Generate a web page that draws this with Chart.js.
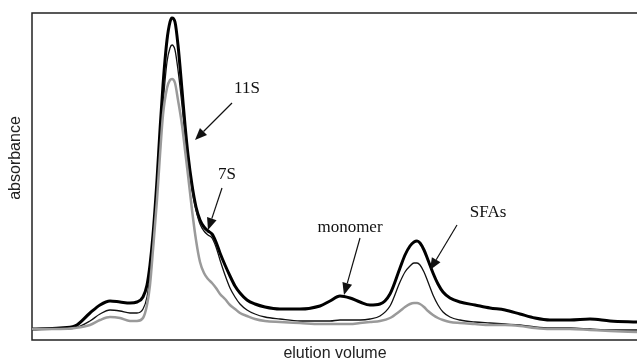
<!DOCTYPE html>
<html>
<head>
<meta charset="utf-8">
<script src="https://cdn.jsdelivr.net/npm/chart.js@4"></script>
<style>
  html, body { margin: 0; padding: 0; background: #fff; }
  #wrap { width: 637px; height: 364px; }
</style>
</head>
<body>
<div id="wrap"><canvas id="chart"></canvas></div>
<script>
// elution volume (arbitrary units) and absorbance (arbitrary units)
const volume = [0, 28, 43, 58, 68, 78, 88, 98, 105, 111,
  115, 118, 121, 125, 128, 131, 135, 138, 140, 143,
  146, 150, 153, 156, 160, 164, 168, 172, 176, 180,
  184, 188, 193, 198, 203, 208, 215, 223, 233, 248,
  268, 288, 298, 308, 318, 328, 338, 348, 358, 368,
  373, 378, 382, 385, 388, 392, 396, 401, 406, 411,
  418, 428, 443, 458, 473, 488, 503, 518, 538, 558,
  578, 605];

const thickVals = [11, 12, 14, 27, 35, 39, 38, 37, 38, 43,
  55, 75, 105, 160, 210, 255, 300, 318, 322, 318,
  295, 250, 215, 185, 155, 133, 120, 113, 109, 106,
  98, 87, 75, 64, 54, 47, 40, 36, 33, 31,
  31, 34, 39, 44, 42, 38, 35, 36, 46, 72,
  85, 94, 98, 99, 97, 90, 80, 67, 56, 48,
  42, 38, 35, 32, 30, 26, 22, 20, 20, 21,
  19, 18];

const thinVals = [11, 11, 12, 19, 26, 30, 29, 27, 27, 31,
  43, 65, 95, 145, 190, 235, 278, 292, 295, 290,
  270, 235, 205, 178, 150, 130, 116, 109, 105, 102,
  93, 80, 65, 52, 43, 36, 30, 26, 23, 21,
  19, 19, 19, 20, 20, 20, 21, 24, 34, 58,
  68, 74, 77, 77, 75, 68, 58, 45, 35, 28,
  23, 20, 18, 17, 16, 15, 13, 12, 12, 11,
  10, 10];

const grayVals = [11, 11, 12, 15, 20, 23, 22, 19, 19, 22,
  35, 55, 90, 140, 185, 225, 252, 260, 261, 257,
  240, 215, 190, 165, 130, 100, 78, 67, 61, 57,
  52, 46, 41, 35, 31, 27, 24, 21, 19, 18,
  17, 16, 16, 16, 16, 17, 18, 19, 22, 29,
  33, 36, 37, 37, 36, 33, 29, 25, 22, 20,
  18, 17, 16, 15, 15, 14, 12, 11, 11, 10,
  9, 8];

// peak labels: text position, arrow tail, arrow tip (data units)
const notes = [
  { text: "11S", lx: 215, ly: 251, tx: 200, ty: 237, hx: 163, hy: 200 },
  { text: "7S", lx: 195, ly: 165, tx: 190, ty: 152, hx: 176, hy: 110 },
  { text: "monomer", lx: 318, ly: 112, tx: 328, ty: 102, hx: 312, hy: 45 },
  { text: "SFAs", lx: 456, ly: 127, tx: 425, ty: 115, hx: 398, hy: 70 }
];

function pts(vals) {
  return volume.map((v, i) => ({ x: v, y: vals[i] }));
}

const decor = {
  id: "decor",
  beforeDatasetsDraw(chart) {
    const { ctx, chartArea: a } = chart;
    ctx.save();
    ctx.strokeStyle = "#222";
    ctx.lineWidth = 1.5;
    ctx.beginPath();
    ctx.moveTo(a.right, a.top);
    ctx.lineTo(a.left, a.top);
    ctx.lineTo(a.left, a.bottom);
    ctx.lineTo(a.right, a.bottom);
    ctx.stroke();

    ctx.fillStyle = "#222";
    ctx.font = "16px 'Liberation Sans', Arial, sans-serif";
    ctx.textAlign = "center";
    ctx.textBaseline = "middle";
    ctx.fillText("elution volume", 335, 354);
    ctx.translate(16, 158);
    ctx.rotate(-Math.PI / 2);
    ctx.fillText("absorbance", 0, 0);
    ctx.restore();
  },
  afterDatasetsDraw(chart) {
    const { ctx } = chart;
    const xs = chart.scales.x, ys = chart.scales.y;
    ctx.save();
    ctx.fillStyle = "#111";
    ctx.strokeStyle = "#111";
    ctx.font = "17px 'Liberation Serif', 'Times New Roman', serif";
    ctx.textAlign = "center";
    ctx.textBaseline = "middle";
    notes.forEach(n => {
      ctx.fillText(n.text, xs.getPixelForValue(n.lx), ys.getPixelForValue(n.ly));
      const x0 = xs.getPixelForValue(n.tx), y0 = ys.getPixelForValue(n.ty);
      const x1 = xs.getPixelForValue(n.hx), y1 = ys.getPixelForValue(n.hy);
      const ang = Math.atan2(y1 - y0, x1 - x0);
      const len = 12, half = 5;
      const bx = x1 - len * Math.cos(ang), by = y1 - len * Math.sin(ang);
      ctx.lineWidth = 1.2;
      ctx.beginPath();
      ctx.moveTo(x0, y0);
      ctx.lineTo(bx, by);
      ctx.stroke();
      ctx.beginPath();
      ctx.moveTo(x1, y1);
      ctx.lineTo(bx + half * Math.sin(ang), by - half * Math.cos(ang));
      ctx.lineTo(bx - half * Math.sin(ang), by + half * Math.cos(ang));
      ctx.closePath();
      ctx.fill();
    });
    ctx.restore();
  }
};

new Chart(document.getElementById("chart"), {
  type: "line",
  data: {
    datasets: [
      { data: pts(grayVals), borderColor: "#9a9a9a", borderWidth: 2.5 },
      { data: pts(thinVals), borderColor: "#111", borderWidth: 1.3 },
      { data: pts(thickVals), borderColor: "#000", borderWidth: 3 }
    ]
  },
  options: {
    responsive: true,
    maintainAspectRatio: false,
    animation: false,
    layout: { padding: { left: 32, top: 13, right: 0, bottom: 24 } },
    elements: {
      point: { radius: 0 },
      line: { cubicInterpolationMode: "monotone", fill: false }
    },
    plugins: { legend: { display: false }, tooltip: { enabled: false } },
    scales: {
      x: { type: "linear", min: 0, max: 605, display: false },
      y: { min: 0, max: 327, display: false }
    }
  },
  plugins: [decor]
});
</script>
</body>
</html>
